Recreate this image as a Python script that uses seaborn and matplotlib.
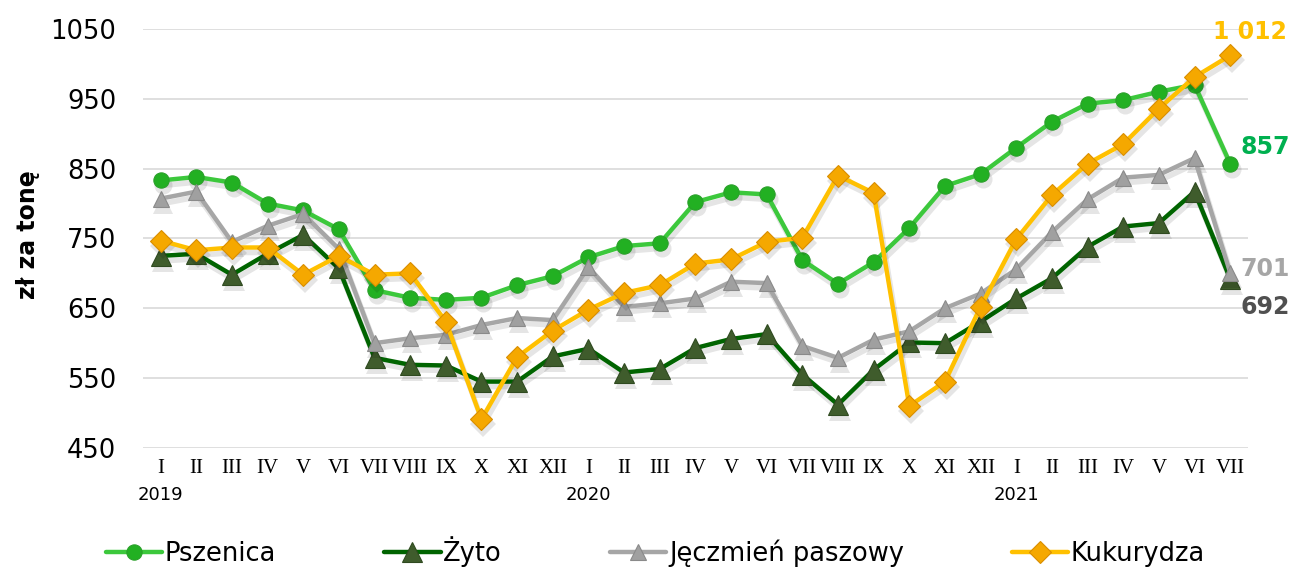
import numpy as np
import pandas as pd
import matplotlib
matplotlib.use("Agg")
import matplotlib.pyplot as plt
import matplotlib.transforms as mtransforms
import seaborn as sns

months = ["I", "II", "III", "IV", "V", "VI", "VII", "VIII", "IX", "X", "XI", "XII",
          "I", "II", "III", "IV", "V", "VI", "VII", "VIII", "IX", "X", "XI", "XII",
          "I", "II", "III", "IV", "V", "VI", "VII"]
years = {0: "2019", 12: "2020", 24: "2021"}

pszenica = [833, 838, 830, 800, 790, 763, 676, 665, 662, 665, 683, 696,
            723, 739, 743, 802, 816, 813, 719, 685, 716, 765, 825, 842,
            880, 917, 943, 948, 960, 970, 857]
zyto = [725, 728, 698, 728, 755, 707, 579, 569, 568, 545, 545, 581,
        592, 558, 563, 593, 606, 613, 555, 512, 562, 601, 600, 631,
        664, 693, 738, 767, 772, 817, 692]
jeczmien = [807, 817, 745, 768, 785, 735, 600, 607, 612, 626, 636, 633,
            709, 652, 657, 664, 688, 686, 596, 579, 605, 617, 650, 671,
            706, 759, 806, 837, 841, 865, 701]
kukurydza = [747, 733, 737, 737, 698, 725, 698, 700, 631, 491, 580, 618,
             648, 672, 683, 714, 720, 745, 751, 840, 815, 510, 545, 652,
             749, 812, 857, 885, 936, 981, 1012]

series = [
    ("Pszenica", pszenica, "#3CC83C", "o", 11, "#22B022", "#2AA02A"),
    ("Żyto", zyto, "#006400", "^", 14, "#3F5C2C", "#2F4A20"),
    ("Jęczmień paszowy", jeczmien, "#A6A6A6", "^", 12, "#A0A0A0", "#8A8A8A"),
    ("Kukurydza", kukurydza, "#FFC000", "D", 11, "#F5A800", "#D98E00"),
]

end_labels = [
    ("1 012", kukurydza[-1], "#FFC000", (-17, 23)),
    ("857", pszenica[-1], "#00B050", (10, 17)),
    ("701", jeczmien[-1], "#A6A6A6", (10, 4)),
    ("692", zyto[-1], "#505050", (10, -28)),
]

sns.set_style("white")
plt.rcParams["text.color"] = "black"
plt.rcParams["xtick.color"] = "black"
plt.rcParams["ytick.color"] = "black"
plt.rcParams["axes.labelcolor"] = "black"
fig = plt.figure(figsize=(12.98, 5.67), dpi=100)
ax = fig.add_axes([0.110, 0.210, 0.8515, 0.739])

x = np.arange(len(months))
shadow_tr = mtransforms.offset_copy(ax.transData, fig=fig, x=2, y=-5, units="dots")
for i, (name, vals, lc, mk, ms, mfc, mec) in enumerate(series):
    df = pd.DataFrame({"x": x, "y": vals})
    # soft shadow under each series
    sns.lineplot(data=df, x="x", y="y", ax=ax, color="k", alpha=0.10,
                 linewidth=4, marker=mk, markersize=ms + 2,
                 markeredgewidth=0, transform=shadow_tr, zorder=2 * i + 1)
    sns.lineplot(data=df, x="x", y="y", ax=ax, color=lc, linewidth=3.2,
                 marker=mk, markersize=ms, markerfacecolor=mfc,
                 markeredgecolor=mec, markeredgewidth=0.8, label=name,
                 zorder=2 * i + 2)

ax.set_xlim(-0.5, len(months) - 0.5)
ax.set_ylim(450, 1050)
ax.set_yticks(np.arange(450, 1051, 100))
ax.yaxis.grid(True, color="#D9D9D9", linewidth=1.2)
ax.xaxis.grid(False)
for s in ax.spines.values():
    s.set_visible(False)
ax.set_xticks(x)
ax.set_xticklabels(months, family="Liberation Serif", fontsize=15)
ax.tick_params(axis="x", length=0, pad=8)
ax.tick_params(axis="y", length=0, pad=19, labelsize=18.5)
ax.set_xlabel("")
ax.set_ylabel("zł za tonę", fontsize=17, fontweight="bold")
ax.yaxis.set_label_coords(-0.093, 0.508)

for i, yr in years.items():
    ax.annotate(yr, xy=(i, 0), xycoords=("data", "axes fraction"),
                xytext=(0, -47), textcoords="offset pixels",
                ha="center", va="center", fontsize=13)

for txt, v, c, off in end_labels:
    ax.annotate(txt, xy=(len(months) - 1, v), xytext=off, textcoords="offset pixels",
                ha="left", va="center", fontsize=17, fontweight="bold", color=c,
                annotation_clip=False)

handles, labels = ax.get_legend_handles_labels()
ax.get_legend().remove()
fig.legend(handles, labels, loc="center", bbox_to_anchor=(0.505, 0.028), ncol=4,
           frameon=False, fontsize=18.5, handlelength=2.2, handletextpad=0.1,
           columnspacing=4.2, borderaxespad=0)

fig.savefig("out.png", dpi=100)
